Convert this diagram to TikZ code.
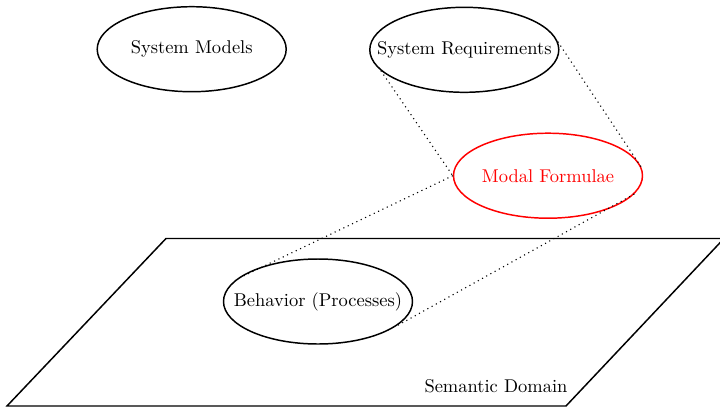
\documentclass[tikz,border=0pt]{standalone}
\usetikzlibrary{shapes.geometric}
\begin{document}
\begin{tikzpicture}[x=0.541pt,y=-0.541pt,
  ell/.style={ellipse,draw,thick,inner sep=0pt,minimum width=189\pgfunit,minimum height=85\pgfunit},
  dotline/.style={dotted,semithick},
  plane/.style={draw,thick}]
\def\pgfunit{*0.541pt}
\useasboundingbox (0,0) rectangle (720,406);
\begin{scope}
\clip (0,0) rectangle (720,406);
\draw[plane] (7,406) -- (166,238.5) -- (724,238.5) -- (566,406) -- cycle;
\end{scope}
\node[ell] (sm) at (191.7,49.2) {\makebox[0pt]{System Models}};
\node[ell] (sr) at (464.3,49.8) {\makebox[0pt]{System Requirements}};
\node[ell,draw=red,text=red] (mf) at (548,175.7) {\makebox[0pt]{Modal Formulae}};
\node[ell] (beh) at (318,301.5) {\makebox[0pt]{Behavior (Processes)}};
\node (sd) at (496,386) {Semantic Domain};
\draw[dotline] (sr.194) -- (mf.180);
\draw[dotline] (sr.5) -- (mf.5);
\draw[dotline] (mf.180) -- (beh.165);
\draw[dotline] (mf.-12) -- (beh.-18);
\end{tikzpicture}
\end{document}
